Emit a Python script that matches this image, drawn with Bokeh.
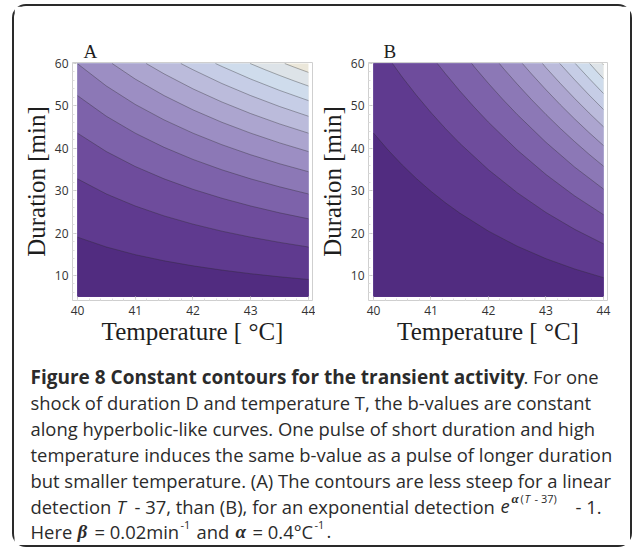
from bokeh.plotting import figure
from bokeh.layouts import column, row
from bokeh.models import Range1d, SingleIntervalTicker
from bokeh.core.properties import value
from bokeh.embed import file_html
from bokeh.resources import INLINE

# ---------------- data ----------------
T_MIN, T_MAX = 40, 44          # temperature domain [degC]
D_MIN, D_MAX = 5, 60           # duration domain [min]

# Panel A: contour lines (temperature, duration) for the linear detection
A_T = [
    [40, 40.5, 41, 41.5, 42, 42.5, 43, 43.5, 44],
    [40, 40.5, 41, 41.5, 42, 42.5, 43, 43.5, 44],
    [40, 40.5, 41, 41.5, 42, 42.5, 43, 43.5, 44],
    [40, 40.5, 41, 41.5, 42, 42.5, 43, 43.5, 44],
    [40, 40.5, 41, 41.5, 42, 42.5, 43, 43.5, 44],
    [40.6, 41, 41.5, 42, 42.5, 43, 43.5, 44],
    [41.19, 41.5, 42, 42.5, 43, 43.5, 44],
    [41.79, 42, 42.5, 43, 43.5, 44],
    [42.39, 42.5, 43, 43.5, 44],
    [42.99, 43.25, 43.5, 43.75, 44],
    [43.59, 43.75, 44],
]
A_D = [
    [19.04, 16.72, 14.91, 13.46, 12.27, 11.27, 10.42, 9.69, 9.06],
    [32.79, 29.23, 26.39, 24.05, 22.11, 20.45, 19.04, 17.81, 16.72],
    [43.57, 39.23, 35.71, 32.79, 30.33, 28.22, 26.39, 24.78, 23.37],
    [52.43, 47.56, 43.57, 40.23, 37.38, 34.93, 32.79, 30.91, 29.23],
    [59.95, 54.69, 50.35, 46.70, 43.57, 40.85, 38.47, 36.36, 34.48],
    [60, 56.33, 52.43, 49.07, 46.14, 43.57, 41.28, 39.23],
    [60, 57.56, 54.02, 50.93, 48.19, 45.75, 43.57],
    [60, 58.53, 55.29, 52.43, 49.86, 47.56],
    [60, 59.31, 56.33, 53.66, 51.25],
    [60, 58.53, 57.19, 55.91, 54.69],
    [60, 59.16, 57.91],
]

# Panel B: contour lines for the exponential detection
B_T = [
    [40, 40.25, 40.5, 40.75, 41, 41.25, 41.5, 42, 42.5, 43, 43.5, 44],
    [40.33, 40.5, 40.75, 41, 41.25, 41.5, 42, 42.5, 43, 43.5, 44],
    [41.11, 41.25, 41.5, 41.75, 42, 42.5, 43, 43.5, 44],
    [41.71, 41.75, 42, 42.25, 42.5, 43, 43.5, 44],
    [42.19, 42.25, 42.5, 42.75, 43, 43.25, 43.5, 43.75, 44],
    [42.59, 42.75, 43, 43.25, 43.5, 43.75, 44],
    [42.94, 43, 43.25, 43.5, 43.75, 44],
    [43.24, 43.5, 43.75, 44],
    [43.51, 43.75, 44],
    [43.76, 43.875, 44],
    [43.98, 44],
]
B_D = [
    [43.61, 39.65, 36.07, 32.82, 29.86, 27.17, 24.73, 20.46, 16.91, 13.97, 11.53, 9.49],
    [60, 56.80, 52.46, 48.43, 44.68, 41.19, 34.94, 29.53, 24.87, 20.88, 17.47],
    [60, 57.62, 53.56, 49.74, 46.15, 39.60, 33.82, 28.76, 24.35],
    [60, 59.27, 55.30, 51.53, 47.97, 41.41, 35.56, 30.39],
    [60, 58.99, 55.14, 51.47, 47.99, 44.69, 41.56, 38.59, 35.79],
    [60, 57.52, 53.81, 50.27, 46.90, 43.70, 40.65],
    [60, 59.02, 55.30, 51.73, 48.33, 45.09],
    [60, 56.14, 52.57, 49.16],
    [60, 56.48, 52.93],
    [60, 58.25, 56.43],
    [60, 59.71],
]

# band colours, from the lowest band to the highest
BAND_COLORS = ["#512c80", "#5f3a8f", "#6e4c9c", "#7d62aa", "#8c78b6", "#9c8ec3",
               "#aca5cf", "#bbbbdb", "#c6cde6", "#cfdcec", "#dde3e8", "#ebe7da"]

X_TICKS_INTERVAL = 1
Y_TICKS_INTERVAL = 10

CAPTION_LINES = [
    "shock of duration D and temperature T, the b-values are constant",
    "along hyperbolic-like curves. One pulse of short duration and high",
    "temperature induces the same b-value as a pulse of longer duration",
    "but smaller temperature. (A) The contours are less steep for a linear",
]

SERIF = "Liberation Serif"
SANS = "Open Sans"
TXT = "#2b2b2b"

# ---------------- panels ----------------
def panel(letter, lines_T, lines_D, width, bl, br, title_offset):
    p = figure(width=width, height=344, output_backend="svg", toolbar_location=None,
               x_range=Range1d(39.913, 44.07), y_range=Range1d(4.1, 60.24),
               min_border_left=bl, min_border_right=br, min_border_top=56,
               min_border_bottom=50, background_fill_color="white",
               border_fill_color="white")
    p.grid.visible = False
    p.outline_line_color = "#cfcfcf"
    p.outline_line_width = 1

    p.patch([T_MIN, T_MAX, T_MAX, T_MIN], [D_MIN, D_MIN, D_MAX, D_MAX],
            fill_color=BAND_COLORS[len(lines_T)], line_color=None)
    for k in reversed(range(len(lines_T))):
        xs = list(lines_T[k]) + [T_MAX, T_MIN]
        ys = list(lines_D[k]) + [D_MIN, D_MIN]
        if lines_T[k][0] > T_MIN:
            xs.append(T_MIN)
            ys.append(D_MAX)
        p.patch(xs, ys, fill_color=BAND_COLORS[k], line_color=None)
    p.multi_line(lines_T, lines_D, line_color="#2a2a2a", line_alpha=0.6, line_width=0.6)

    p.xaxis.ticker = SingleIntervalTicker(interval=X_TICKS_INTERVAL, num_minor_ticks=5)
    p.yaxis.ticker = SingleIntervalTicker(interval=Y_TICKS_INTERVAL, num_minor_ticks=5)
    for ax in (p.xaxis[0], p.yaxis[0]):
        ax.axis_line_color = None
        ax.major_tick_in = 4
        ax.major_tick_out = 0
        ax.minor_tick_in = 2
        ax.minor_tick_out = 0
        ax.major_tick_line_color = "#c8c8c8"
        ax.minor_tick_line_color = "#dcdcdc"
        ax.major_label_text_font = SANS
        ax.major_label_text_font_size = "12px"
        ax.major_label_text_color = "#333333"
        ax.axis_label_text_font = SERIF
        ax.axis_label_text_font_size = "25px"
        ax.axis_label_text_font_style = "normal"
        ax.axis_label_text_color = "#1e1e1e"
    p.xaxis.major_label_standoff = 5
    p.yaxis.major_label_standoff = 4
    p.xaxis.axis_label = "Temperature [ \u00b0C]"
    p.yaxis.axis_label = "Duration [min]"
    p.xaxis.axis_label_standoff = 0
    p.yaxis.axis_label_standoff = 2

    p.title.text = letter
    p.title.text_font = SERIF
    p.title.text_font_size = "19px"
    p.title.text_font_style = "normal"
    p.title.text_color = "#1e1e1e"
    p.title.offset = title_offset
    p.title.standoff = 2
    return p

pA = panel("A", A_T, A_D, 301, 58, 3, 11)
pB = panel("B", B_T, B_D, 315, 49, 23, 15)

# ---------------- caption ----------------
cap = figure(width=616, height=195, output_backend="svg", toolbar_location=None,
             x_range=Range1d(14, 630), y_range=Range1d(545, 350),
             x_axis_location=None, y_axis_location=None,
             min_border=0, border_fill_color="white", background_fill_color="white")
cap.grid.visible = False
cap.outline_line_color = None

LINE_Y = [376, 402, 428, 454, 480, 506, 531]
FS = "18.4px"

def put(texts, xs, ys, font=SANS, size=FS, style="normal", align="left"):
    cap.text(x=xs, y=ys, text=texts, text_font=value(font), text_font_size=value(size),
             text_font_style=style, text_color=TXT, text_baseline="middle", text_align=align)

put(["Figure 8 Constant contours for the transient activity"], [30], [LINE_Y[0]], style="bold", size="19px")
put([". For one"], [523], [LINE_Y[0]])
put(CAPTION_LINES, [30] * 4, LINE_Y[1:5])
# line 6
put(["detection", "- 37, than (B), for an exponential detection", "- 1."],
    [30, 134, 575], [LINE_Y[5]] * 3)
put(["T", "e"], [116, 500], [LINE_Y[5]] * 2, style="italic")
put(["(", "- 37)"], [520, 534], [LINE_Y[5] - 8] * 2, size="11px")
put(["T"], [524], [LINE_Y[5] - 8], size="11px", style="italic")
put(["\u03b1"], [511], [LINE_Y[5] - 8], font=SERIF, size="13px", style="bold italic")
# line 7
put(["Here", "= 0.02min", "and", "= 0.4\u00b0C", "."], [30, 94, 196, 252, 326], [LINE_Y[6]] * 5)
put(["-1", "-1"], [180, 314], [LINE_Y[6] - 7] * 2, size="11px")
put(["\u03b2", "\u03b1"], [77, 235], [LINE_Y[6]] * 2, font=SERIF, size="19px", style="bold italic")

layout = column(row(pA, pB), cap, width=620, height=543,
                styles={"box-sizing": "border-box", "border": "2px solid #2a2a2a",
                        "border-radius": "14px", "margin-left": "12px", "margin-top": "4px"})

open("out.html", "w").write(file_html(layout, INLINE))
